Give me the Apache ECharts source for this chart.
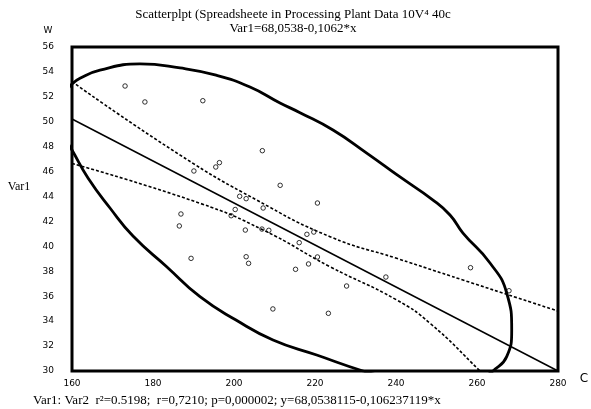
<!DOCTYPE html>
<html>
<head>
<meta charset="utf-8">
<script src="https://cdn.jsdelivr.net/npm/echarts@6/dist/echarts.min.js"></script>
<style>html,body{margin:0;padding:0;background:#fff}#c{width:591px;height:409px}</style>
</head>
<body>
<div id="c"></div>
<script>
// Tick labels
const xTicks = [160, 180, 200, 220, 240, 260, 280];
const yTicks = [30, 32, 34, 36, 38, 40, 42, 44, 46, 48, 50, 52, 54, 56];

// Scatter values (Var2, Var1)
const scatterX = [173.1, 178.0, 192.3, 207.0, 196.4, 195.5, 190.1, 211.4, 201.4, 203.0, 220.6, 207.2,
  200.3, 186.9, 186.5, 199.3, 202.8, 206.9, 208.6, 218.0, 219.7, 216.1, 220.6, 203.0,
  203.6, 189.4, 218.4, 215.2, 209.6, 223.3, 227.8, 237.5, 258.4, 267.9];
const scatterY = [52.87, 51.59, 51.69, 47.68, 46.72, 46.37, 46.05, 44.90, 44.02, 43.83, 43.48, 43.08,
  42.96, 42.60, 41.64, 42.46, 41.31, 41.39, 41.29, 40.97, 41.15, 40.30, 39.15, 39.17,
  38.64, 39.04, 38.59, 38.16, 34.98, 34.63, 36.82, 37.54, 38.29, 36.44];

// Regression line endpoints
const regLine = [[160, 50.22], [280, 30.0]];

// Confidence bands (upper and lower)
const bandUpper = [[160, 53.22], [186.67, 47.33], [205.6, 43.72], [223.7, 40.78], [240.17, 39.04], [256.54, 37.30], [280, 34.81]];
const bandLower = [[160, 46.65], [191.6, 43.46], [207.23, 41.31], [223.7, 38.37], [240.17, 35.70], [248.4, 33.83], [260.74, 30.0], [262, 29.5]];

// Ellipse arcs (visible parts)
const ellipseUpper = [[159.0, 52.63], [160, 53.03], [161.98, 53.49], [166.91, 54.15], [176.79, 54.64], [186.67, 54.32],
  [195.31, 53.76], [203.95, 52.79], [211.36, 51.51], [216.3, 50.73], [224.44, 49.34], [232.77, 47.49],
  [240.99, 45.57], [249.14, 43.72], [253.33, 42.52], [256.54, 41.07], [263.21, 38.67], [267.33, 36.26],
  [268.57, 33.29], [267.33, 31.15], [263.95, 30.0], [261.98, 29.6]];
const ellipseLower = [[158.52, 48.54], [160, 47.73], [163.95, 45.49], [169.38, 43.08],
  [175.06, 40.83], [183.38, 38.37], [191.6, 35.96], [200.49, 34.09], [209.63, 32.49], [220.42, 31.28],
  [231.85, 30.0], [238.52, 29.44]];

const pts = scatterX.map((x, i) => [x, scatterY[i]]);
const serif = '"Liberation Serif", "DejaVu Serif", serif';
const sans = '"DejaVu Sans", sans-serif';

const chart = echarts.init(document.getElementById('c'), null, {renderer: 'canvas'});
chart.setOption({
  animation: false,
  backgroundColor: '#fff',
  grid: {left: 72, top: 47, right: 33, bottom: 38, show: true, borderColor: '#000', borderWidth: 3, backgroundColor: 'transparent'},
  xAxis: {
    type: 'value', min: xTicks[0], max: xTicks[xTicks.length - 1], interval: xTicks[1] - xTicks[0],
    axisLine: {show: false}, axisTick: {show: false}, splitLine: {show: false},
    axisLabel: {fontFamily: sans, fontSize: 9, color: '#000', margin: 8}
  },
  yAxis: {
    type: 'value', min: yTicks[0], max: yTicks[yTicks.length - 1], interval: yTicks[1] - yTicks[0],
    axisLine: {show: false}, axisTick: {show: false}, splitLine: {show: false},
    axisLabel: {fontFamily: sans, fontSize: 9, color: '#000', margin: 18}
  },
  graphic: [
    {type: 'text', x: 293, y: 15, style: {text: 'Scatterplpt (Spreadsheete in Processing Plant Data 10V\u2074 40c', font: '13px ' + serif, fill: '#000', textAlign: 'center', textVerticalAlign: 'middle'}},
    {type: 'text', x: 293, y: 29, style: {text: 'Var1=68,0538-0,1062*x', font: '13px ' + serif, fill: '#000', textAlign: 'center', textVerticalAlign: 'middle'}},
    {type: 'text', x: 48, y: 31, style: {text: 'W', font: '9px ' + sans, fill: '#000', textAlign: 'center', textVerticalAlign: 'middle'}},
    {type: 'text', x: 19, y: 187, style: {text: 'Var1', font: '12px ' + serif, fill: '#000', textAlign: 'center', textVerticalAlign: 'middle'}},
    {type: 'text', x: 584, y: 379, style: {text: 'C', font: '12px ' + sans, fill: '#000', textAlign: 'center', textVerticalAlign: 'middle'}},
    {type: 'text', x: 33, y: 401, style: {text: 'Var1: Var2  r\u00b2=0.5198;  r=0,7210; p=0,000002; y=68,0538115-0,106237119*x', font: '13px ' + serif, fill: '#000', textAlign: 'left', textVerticalAlign: 'middle'}}
  ],
  series: [
    {type: 'line', data: ellipseUpper, smooth: 0.5, symbol: 'none', clip: true, lineStyle: {color: '#000', width: 2.8}},
    {type: 'line', data: ellipseLower, smooth: 0.5, symbol: 'none', clip: true, lineStyle: {color: '#000', width: 2.8}},
    {type: 'line', data: bandUpper, smooth: 0.5, symbol: 'none', clip: true, lineStyle: {color: '#000', width: 1.6, type: [3, 2]}},
    {type: 'line', data: bandLower, smooth: 0.5, symbol: 'none', clip: true, lineStyle: {color: '#000', width: 1.6, type: [3, 2]}},
    {type: 'line', data: regLine, symbol: 'none', clip: true, lineStyle: {color: '#000', width: 1.5}},
    {type: 'scatter', data: pts, symbol: 'circle', symbolSize: 4.5, itemStyle: {color: '#fff', borderColor: '#000', borderWidth: 1}}
  ]
});
</script>
</body>
</html>
